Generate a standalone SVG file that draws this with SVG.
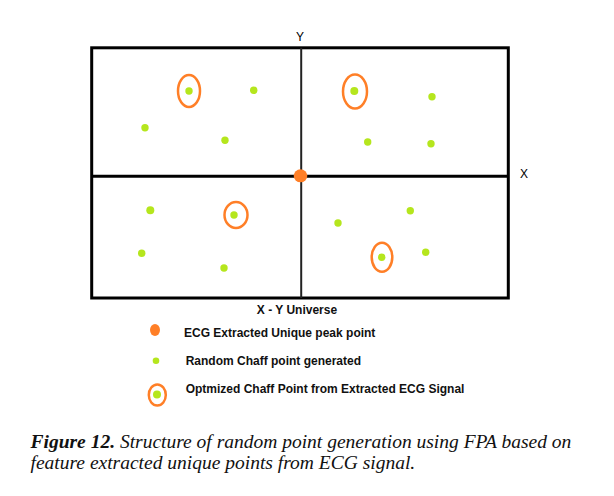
<svg xmlns="http://www.w3.org/2000/svg" width="614" height="496" viewBox="0 0 614 496">
<style>
.frame{fill:none;stroke:#000;stroke-width:3}
.axis{stroke:#000;stroke-width:3}
.vaxis{stroke:#222;stroke-width:2}
.chaff{fill:#b5e61d}
.ring{fill:none;stroke:#ff7f27;stroke-width:2.5}
.peak{fill:#ff7f27}
.lbl{font-family:"Liberation Sans",Arial,sans-serif;font-size:12px;font-weight:bold;fill:#111}
.ax{font-family:"Liberation Sans",Arial,sans-serif;font-size:12px;fill:#000}
.cap{font-family:"Liberation Serif","Times New Roman",serif;font-size:19.5px;font-style:italic;fill:#111}
</style>
<rect width="614" height="496" fill="#fff"/>
<g id="universe">
<rect class="frame" x="91.7" y="47.8" width="416.6" height="250.2"/>
<line class="axis" x1="91.7" y1="176.2" x2="509" y2="176.2"/>
<line class="vaxis" x1="301.2" y1="47.8" x2="301.2" y2="298"/>
<text class="ax" x="300" y="41" text-anchor="middle">Y</text>
<text class="ax" x="524" y="178" text-anchor="middle">X</text>
<text class="lbl" x="297" y="314" text-anchor="middle">X - Y Universe</text>
</g>
<g id="peak-point">
<ellipse class="peak" cx="300.5" cy="175.8" rx="6.8" ry="6.5"/>
</g>
<g id="q1-points">
<ellipse class="ring" cx="189" cy="91" rx="11" ry="16"/>
<circle class="chaff" cx="189" cy="91" r="3.7"/>
<circle class="chaff" cx="253.7" cy="90.3" r="3.7"/>
<circle class="chaff" cx="145" cy="127.7" r="3.7"/>
<circle class="chaff" cx="225" cy="140.3" r="3.7"/>
</g>
<g id="q2-points">
<ellipse class="ring" cx="355" cy="91.5" rx="12" ry="17"/>
<circle class="chaff" cx="354.3" cy="91" r="4"/>
<circle class="chaff" cx="432" cy="96.7" r="3.7"/>
<circle class="chaff" cx="367.7" cy="142" r="3.7"/>
<circle class="chaff" cx="431" cy="143.7" r="3.7"/>
</g>
<g id="q3-points">
<ellipse class="ring" cx="236" cy="215" rx="11.5" ry="13"/>
<circle class="chaff" cx="234" cy="215" r="3.7"/>
<circle class="chaff" cx="150.3" cy="210.3" r="4"/>
<circle class="chaff" cx="141.7" cy="253.3" r="3.7"/>
<circle class="chaff" cx="224" cy="268" r="3.7"/>
</g>
<g id="q4-points">
<ellipse class="ring" cx="382" cy="257.3" rx="10.3" ry="14.5"/>
<circle class="chaff" cx="381.7" cy="257.3" r="3.7"/>
<circle class="chaff" cx="410.3" cy="210.7" r="3.7"/>
<circle class="chaff" cx="338" cy="223" r="3.7"/>
<circle class="chaff" cx="425.7" cy="252.3" r="3.7"/>
</g>
<g id="legend-peak">
<ellipse class="peak" cx="155" cy="330" rx="5" ry="6"/>
<text class="lbl" x="184" y="337">ECG Extracted Unique peak point</text>
</g>
<g id="legend-chaff">
<circle class="chaff" cx="156" cy="360.7" r="3.3"/>
<text class="lbl" x="185.7" y="365">Random Chaff point generated</text>
</g>
<g id="legend-optimized">
<ellipse class="ring" cx="157.3" cy="395" rx="8.5" ry="10.5"/>
<circle class="chaff" cx="157" cy="394.5" r="4"/>
<text class="lbl" x="185.7" y="393.3">Optmized Chaff Point from Extracted ECG Signal</text>
</g>
<g id="caption">
<text class="cap" x="30.5" y="448"><tspan font-weight="bold">Figure 12.</tspan> Structure of random point generation using FPA based on</text>
<text class="cap" x="30.5" y="469">feature extracted unique points from ECG signal.</text>
</g>
</svg>
